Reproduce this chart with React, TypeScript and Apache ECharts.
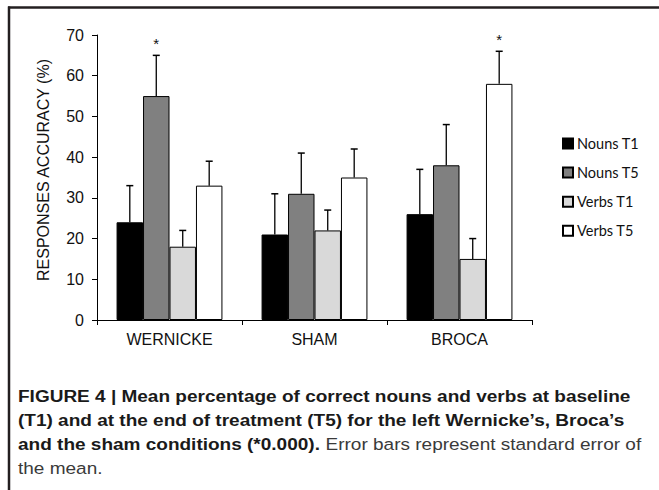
import React, { useEffect, useRef } from "react";
import * as echarts from "echarts";

const categories = ["WERNICKE", "SHAM", "BROCA"];
const seriesNames = ["Nouns T1", "Nouns T5", "Verbs T1", "Verbs T5"];
const nounsT1 = [24, 21, 26];
const nounsT5 = [55, 31, 38];
const verbsT1 = [18, 22, 15];
const verbsT5 = [33, 35, 58];
const nounsT1Err = [9, 10, 11];
const nounsT5Err = [10, 10, 10];
const verbsT1Err = [4, 5, 5];
const verbsT5Err = [6, 7, 8];
const nounsT1Sig = [false, false, false];
const nounsT5Sig = [true, false, false];
const verbsT1Sig = [false, false, false];
const verbsT5Sig = [false, false, true];
const yTicks = { min: 0, max: 70, interval: 10 };
const captionLines = [
  [{ t: "FIGURE 4 | Mean percentage of correct nouns and verbs at baseline", b: true }],
  [{ t: "(T1) and at the end of treatment (T5) for the left Wernicke’s, Broca’s", b: true }],
  [
    { t: "and the sham conditions (*0.000).", b: true },
    { t: " Error bars represent standard error of", b: false },
  ],
  [{ t: "the mean.", b: false }],
];

const colors = ["#000000", "#808080", "#d9d9d9", "#ffffff"];
const CAT_GAP = 0.27;
const CAP_FONT = 17;
const CAP_FAMILY = "Liberation Sans";
const CAP_LEFT = 18;
const CAP_FIRST_WIDTH = 613;

function measure(text: string, bold: boolean) {
  const cv = document.createElement("canvas");
  const ctx = cv.getContext("2d");
  if (!ctx) return text.length * CAP_FONT * 0.55;
  ctx.font = `${bold ? "bold " : ""}${CAP_FONT}px "${CAP_FAMILY}"`;
  return ctx.measureText(text).width;
}

export default function App() {
  const ref = useRef<HTMLDivElement>(null);
  useEffect(() => {
    if (!ref.current) return;
    const chart = echarts.init(ref.current, null, { renderer: "svg" });
    const values = [nounsT1, nounsT5, verbsT1, verbsT5];
    const errs = [nounsT1Err, nounsT5Err, verbsT1Err, verbsT5Err];
    const sigs = [nounsT1Sig, nounsT5Sig, verbsT1Sig, verbsT5Sig];
    const errData: any[] = [];
    values.forEach((arr, s) => {
      arr.forEach((v, c) => {
        errData.push([c, v, v + errs[s][c], s, sigs[s][c] ? 1 : 0]);
      });
    });
    const barSeries = seriesNames.map((name, i) => ({
      name,
      type: "bar",
      data: values[i],
      barGap: "0%",
      barCategoryGap: CAT_GAP * 100 + "%",
      itemStyle: { color: colors[i], borderColor: "#000", borderWidth: 1 },
    }));
    const nSeries = seriesNames.length;

    const firstW = measure(captionLines[0][0].t, true);
    const scale = firstW > 0 ? CAP_FIRST_WIDTH / firstW : 0.85;
    const captionGraphics: any[] = [];
    captionLines.forEach((parts, li) => {
      let x = CAP_LEFT;
      parts.forEach((p) => {
        captionGraphics.push({
          type: "text",
          x,
          y: 388 + li * 23.8,
          scaleX: scale,
          style: {
            text: p.t,
            fontFamily: CAP_FAMILY,
            fontWeight: p.b ? "bold" : "normal",
            fontSize: CAP_FONT,
            fill: p.b ? "#1a1a1a" : "#3a3a3a",
            verticalAlign: "top",
            align: "left",
          },
        });
        x += measure(p.t, p.b) * scale;
      });
    });

    chart.setOption({
      animation: false,
      backgroundColor: "#ffffff",
      grid: { left: 97, top: 35, right: 127, height: 285 },
      legend: {
        orient: "vertical",
        left: 557,
        top: 131,
        itemWidth: 10,
        itemHeight: 10,
        itemGap: 14.1,
        icon: "rect",
        data: seriesNames,
        textStyle: { fontFamily: "Lato", fontSize: 14.5, color: "#111", padding: [0, 0, 0, -1] },
        selectedMode: false,
      },
      xAxis: {
        type: "category",
        data: categories,
        axisLine: { lineStyle: { color: "#000", width: 1 } },
        axisTick: { show: true, length: 5, lineStyle: { color: "#000" } },
        axisLabel: {
          fontFamily: "Liberation Sans",
          fontSize: 16,
          color: "#111",
          margin: 11,
        },
      },
      yAxis: {
        type: "value",
        min: yTicks.min,
        max: yTicks.max,
        interval: yTicks.interval,
        splitLine: { show: false },
        axisLine: { show: true, lineStyle: { color: "#000", width: 1 } },
        axisTick: { show: true, length: 5, lineStyle: { color: "#000" } },
        axisLabel: {
          fontFamily: "Liberation Sans",
          fontSize: 16,
          color: "#111",
          margin: 13,
        },
        name: "RESPONSES ACCURACY (%)",
        nameLocation: "middle",
        nameRotate: 90,
        nameGap: 46,
        nameTextStyle: {
          fontFamily: "Liberation Sans",
          fontSize: 16,
          color: "#111",
          padding: [0, 0, 0, 15],
        },
      },
      series: [
        ...barSeries,
        {
          name: "err",
          type: "custom",
          z: 10,
          data: errData,
          renderItem: (params: any, api: any) => {
            const c = api.value(0);
            const v = api.value(1);
            const hi = api.value(2);
            const s = api.value(3);
            const sig = api.value(4);
            const base = api.coord([c, v]);
            const top = api.coord([c, hi]);
            const bandW = api.size([1, 0])[0];
            const barW = (bandW * (1 - CAT_GAP)) / nSeries;
            const cx = base[0] + (s - (nSeries - 1) / 2) * barW;
            const children: any[] = [
              {
                type: "line",
                shape: { x1: cx, y1: base[1], x2: cx, y2: top[1] },
                style: { stroke: "#000", lineWidth: 1.3 },
              },
              {
                type: "line",
                shape: { x1: cx - 3.5, y1: top[1], x2: cx + 3.5, y2: top[1] },
                style: { stroke: "#000", lineWidth: 1.5 },
              },
            ];
            if (sig) {
              children.push({
                type: "text",
                x: cx,
                y: top[1] - 4,
                style: {
                  text: "*",
                  align: "center",
                  verticalAlign: "bottom",
                  fontFamily: "Liberation Sans",
                  fontSize: 15,
                  fill: "#111",
                },
              });
            }
            return { type: "group", children };
          },
        },
      ],
      graphic: [
        {
          type: "line",
          shape: { x1: 8, y1: 7.5, x2: 659, y2: 7.5 },
          style: { stroke: "#231f20", lineWidth: 2.5 },
        },
        {
          type: "line",
          shape: { x1: 9, y1: 6.5, x2: 9, y2: 490 },
          style: { stroke: "#231f20", lineWidth: 2.5 },
        },
        ...captionGraphics,
      ],
    });
    return () => chart.dispose();
  }, []);
  return (
    <div
      ref={ref}
      style={{ position: "fixed", left: 0, top: 0, width: 659, height: 490 }}
    />
  );
}
